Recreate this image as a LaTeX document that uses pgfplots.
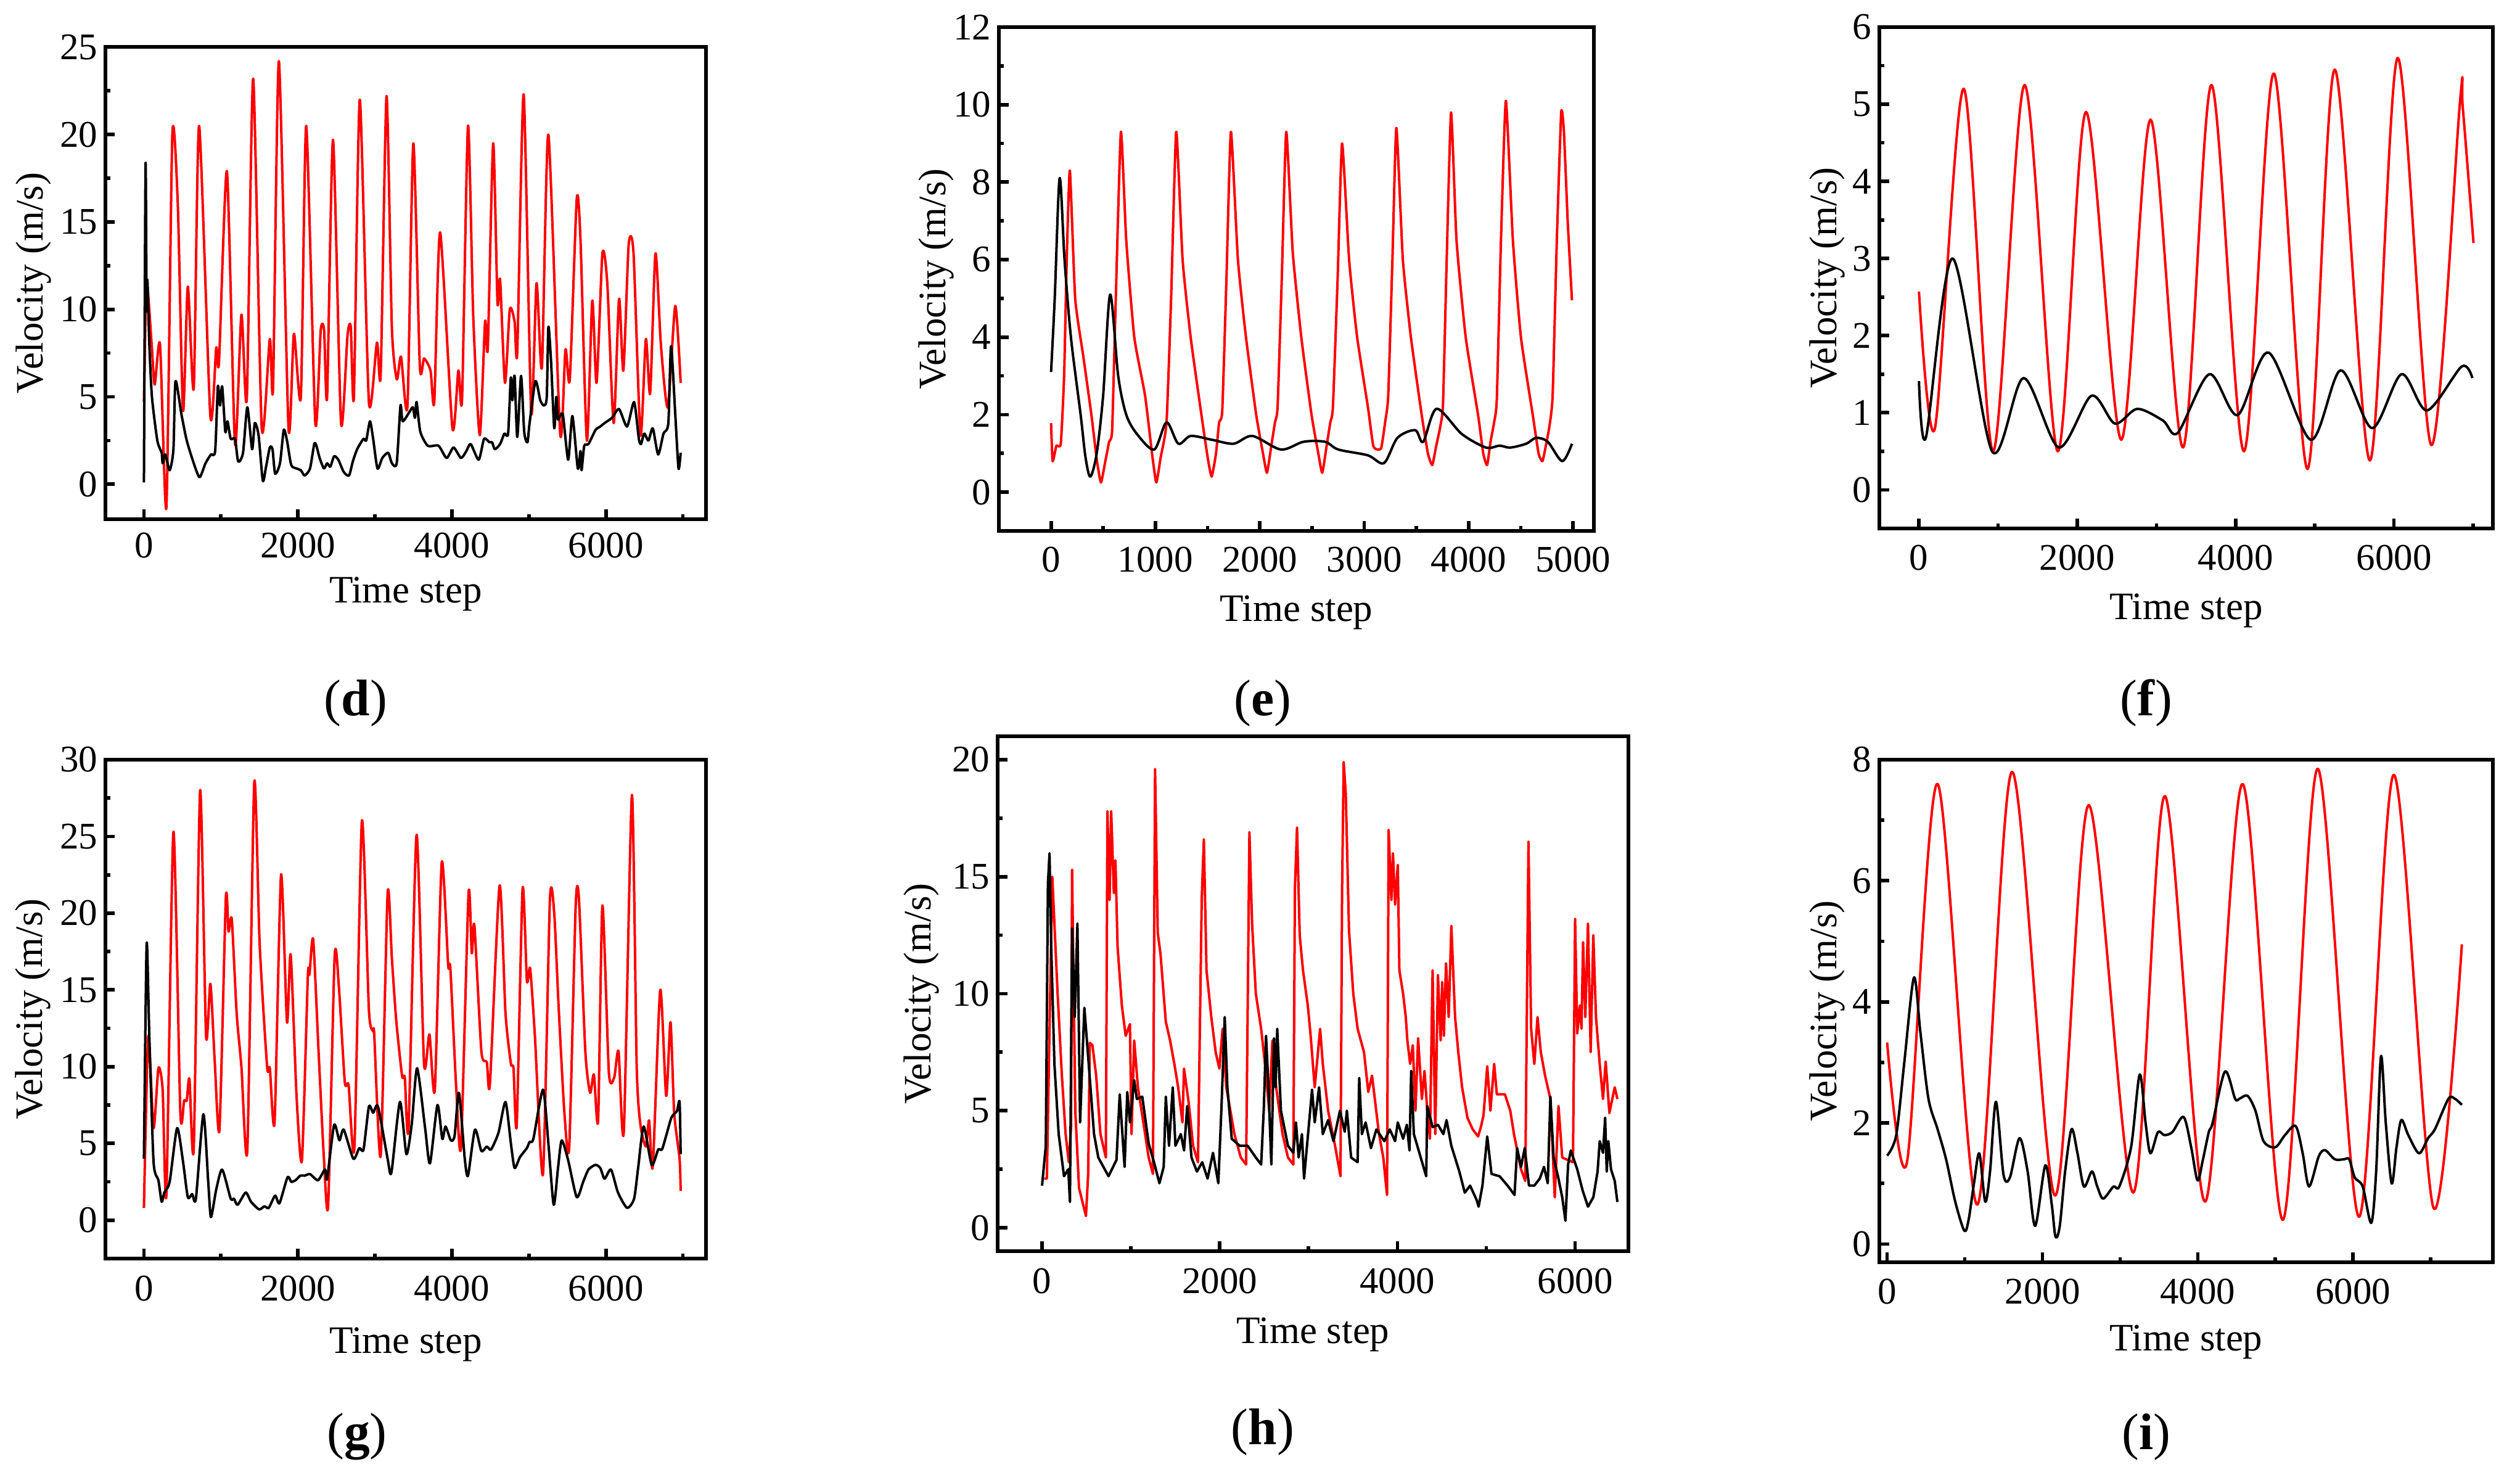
\documentclass[border=0pt]{standalone}
\usepackage{fontspec}
\setmainfont{Liberation Serif}
\usepackage{pgfplots}
\pgfplotsset{compat=1.18}
\pgfplotsset{
  panel/.style={
    scale only axis, anchor=south west,
    axis line style={line width=1.2pt},
    tick style={line width=1.15pt, black},
    major tick length=3.1pt, minor tick length=1.6pt,
    tick align=inside, xtick pos=bottom, ytick pos=left,
    tick label style={font=\rmfamily\fontsize{12.2}{14}\selectfont},
    /pgf/number format/assume math mode=true,
    /pgf/number format/1000 sep={},
    scaled x ticks=false, scaled y ticks=false,
    xticklabel={\rmfamily\pgfmathprintnumber[assume math mode=true,1000 sep={}]{\tick}},
    yticklabel={\rmfamily\pgfmathprintnumber[assume math mode=true,1000 sep={}]{\tick}},
    yticklabel style={xshift=1pt},
  },
  rl/.style={red, line width=0.8pt, line join=round},
  bl/.style={black, line width=0.8pt, line join=round},
}
\newcommand{\lbl}{\fontsize{12.6}{15}\selectfont}
\newcommand{\plbl}{\fontsize{16.7}{20}\selectfont}
\begin{document}
\begin{tikzpicture}
\path[use as bounding box] (0,0) rectangle (817.4pt,478.4pt);
% ---------------- (d)
\begin{axis}[panel, name=d, at={(34.2pt,310.0pt)}, width=194.8pt, height=153.1pt,
  xticklabel style={yshift=-0.8pt},
  xmin=-500, xmax=7300, ymin=-2, ymax=25,
  xtick={0,2000,4000,6000}, minor xtick={1000,3000,5000,7000},
  ytick={0,5,10,15,20,25}, minor ytick={2.5,7.5,12.5,17.5,22.5}]
\addplot[rl, smooth, tension=0.4] coordinates {(0,4.7) (35,11.5) (100,8) (140,5.7) (209,8) (292,-1.3) (369,20) (440,16) (508,4.2) (570,11.3) (647,5.5) (717,20.5) (863,3.9) (939,7.8) (975,7) (1078,17.9) (1183,2.3) (1266,9.7) (1336,4.9) (1419,23.2) (1530,3.2) (1635,8.3) (1677,5.5) (1753,24.2) (1878,3.2) (1948,8.6) (2038,5) (2108,20.5) (2226,3.5) (2296,8.8) (2340,8.8) (2379,5) (2456,19.7) (2560,3.5) (2644,8.5) (2686,9) (2727,5) (2804,22) (2922,4.7) (3026,8.1) (3075,6.3) (3151,22.2) (3220,9) (3284,6) (3339,7.3) (3423,4.5) (3499,19.5) (3583,6.8) (3639,7.2) (3722,6.5) (3771,4.7) (3847,14.4) (4007,3.2) (4084,6.5) (4132,4.9) (4209,20.5) (4278,9.5) (4362,2.8) (4431,9.3) (4466,7.8) (4536,19.5) (4592,10.4) (4626,11.7) (4689,5.8) (4752,10) (4814,9.3) (4849,7.6) (4932,22.3) (5030,4.1) (5099,11.5) (5169,6.7) (5253,20) (5406,2.9) (5475,7.7) (5531,6) (5621,16.3) (5670,14) (5753,2.5) (5823,10.5) (5879,5.8) (5955,13.2) (6018,11.5) (6101,3.5) (6171,10.6) (6227,6.5) (6296,13.7) (6359,13.2) (6449,2.8) (6519,8.3) (6575,5.2) (6644,13.2) (6714,8) (6804,4.4) (6901,10.2) (6971,5.8)};
\addplot[bl, smooth, tension=0.4] coordinates {(0,0.1) (21,18.3) (35,10) (45,11.7) (70,8) (104,5) (174,2.5) (230,1.8) (243,1.2) (278,1.7) (334,0.8) (383,2) (410,5.9) (487,4) (556,2.5) (647,1.2) (723,0.4) (800,1.2) (870,1.7) (925,1.9) (960,5.6) (988,4.5) (1016,5.6) (1057,3) (1085,3.6) (1127,2.6) (1183,2.6) (1224,1.3) (1287,1.8) (1343,4.4) (1405,2) (1440,3.5) (1489,2.8) (1544,0.2) (1586,1) (1635,2.1) (1670,2) (1704,0.6) (1767,1.2) (1816,3.1) (1858,2.5) (1913,1.1) (1983,0.9) (2038,0.8) (2087,0.5) (2157,0.9) (2212,2.3) (2240,2.2) (2282,1.5) (2338,0.9) (2379,1.2) (2421,1) (2470,1.6) (2525,1.4) (2595,0.7) (2664,0.5) (2713,1.3) (2769,2) (2852,2.6) (2887,2.5) (2936,3.6) (2977,2.6) (3033,0.9) (3096,1.5) (3172,1.8) (3221,1.2) (3283,1.2) (3332,4.5) (3360,3.6) (3444,4.1) (3492,4.4) (3520,3.8) (3541,4.7) (3590,3) (3687,2.2) (3826,2.2) (3931,1.5) (4021,2.1) (4118,1.5) (4188,1.9) (4244,2.3) (4348,1.4) (4418,2.6) (4487,2.4) (4522,2.4) (4557,2) (4626,2.3) (4682,2.9) (4730,2.9) (4765,6.1) (4786,4.8) (4814,6.2) (4849,2.7) (4898,6.2) (4939,3) (4981,2.4) (5009,3.5) (5085,5.9) (5148,4.8) (5197,4.5) (5232,5) (5253,9) (5288,7) (5329,3.2) (5357,5) (5378,3.7) (5440,4) (5510,1.4) (5565,3.9) (5635,0.9) (5670,1.9) (5684,0.8) (5719,2.2) (5774,2.3) (5865,3.1) (5927,3.3) (5983,3.5) (6080,3.8) (6171,4.3) (6275,3.3) (6366,4.7) (6428,2.6) (6456,2.3) (6498,2.9) (6553,2.5) (6609,3.2) (6679,1.7) (6748,2.9) (6811,3.5) (6846,7.9) (6901,4) (6943,0.9) (6971,1.8)};
\end{axis}
\node[anchor=base, font=\lbl] at ([yshift=-27.2pt]d.south) {Time step};
\node[rotate=90, anchor=base, font=\lbl] at ([xshift=-20.4pt]d.west) {Velocity (m/s)};
\node[font=\plbl] at (115.4pt,250.4pt) {(\textbf{d})};
% ---------------- (e)
\begin{axis}[panel, name=e, at={(324.0pt,306.2pt)}, width=193.0pt, height=163.4pt,
  xticklabel style={yshift=-1.6pt},
  xmin=-500, xmax=5200, ymin=-1, ymax=12,
  xtick={0,1000,2000,3000,4000,5000}, minor xtick={500,1500,2500,3500,4500},
  ytick={0,2,4,6,8,10,12}, minor ytick={1,3,5,7,9,11}]
\addplot[rl, smooth, tension=0.3] coordinates {(0,1.78) (15,0.8) (51,1.2) (93,1.25) (125,3) (150,6) (180,8.3) (231,5) (309,3.5) (386,2) (440,0.8) (478,0.25) (520,0.8) (556,1.3) (585,1.6) (620,5) (669,9.3) (720,6.5) (797,4) (900,2.5) (967,1) (1008,0.25) (1050,0.9) (1106,1.8) (1150,5) (1199,9.3) (1260,6) (1337,4) (1440,2) (1500,0.9) (1538,0.4) (1580,1) (1610,1.8) (1640,2.1) (1680,5.5) (1723,9.3) (1790,6) (1867,4) (1965,2) (2030,1) (2068,0.5) (2110,1.2) (2145,1.8) (2170,2.2) (2210,5.5) (2253,9.3) (2315,6.2) (2397,4) (2495,2) (2560,1) (2598,0.5) (2640,1.2) (2675,1.8) (2700,2.2) (2745,5.5) (2788,9.0) (2855,6) (2932,4) (3035,2.2) (3086,1.2) (3130,1.1) (3164,1.15) (3200,1.8) (3230,2.5) (3270,6) (3308,9.4) (3370,6) (3447,4) (3550,2) (3610,1) (3652,0.7) (3690,1.2) (3729,1.7) (3755,2.3) (3790,6) (3832,9.8) (3884,6.5) (3972,4) (4090,2) (4140,1) (4177,0.7) (4210,1.3) (4244,1.8) (4270,2.4) (4310,6.5) (4357,10.1) (4424,6.5) (4501,4) (4614,2) (4670,1) (4707,0.8) (4740,1.2) (4774,1.7) (4805,2.5) (4845,6.5) (4887,9.8) (4913,9.3) (4949,7) (4990,4.95)};
\addplot[bl, smooth] coordinates {(0,3.1) (35,5) (82,8.1) (129,6) (190,4) (283,2) (330,0.9) (376,0.4) (437,1) (499,2.5) (566,5.1) (643,3) (720,2) (823,1.5) (988,1.1) (1106,1.8) (1219,1.25) (1337,1.45) (1543,1.35) (1749,1.25) (1929,1.45) (2202,1.1) (2418,1.3) (2623,1.3) (2752,1.1) (3035,0.95) (3189,0.75) (3318,1.4) (3488,1.6) (3565,1.3) (3693,2.15) (3935,1.5) (4167,1.15) (4295,1.2) (4398,1.15) (4552,1.25) (4645,1.4) (4758,1.3) (4897,0.8) (4990,1.25)};
\end{axis}
\node[anchor=base, font=\lbl] at ([yshift=-29.4pt]e.south) {Time step};
\node[rotate=90, anchor=base, font=\lbl] at ([xshift=-17.4pt]e.west) {Velocity (m/s)};
\node[font=\plbl] at (409.6pt,250.4pt) {(\textbf{e})};
% ---------------- (f)
\begin{axis}[panel, name=f, at={(609.6pt,307.0pt)}, width=199.0pt, height=162.6pt,
  xticklabel style={yshift=-1.8pt},
  xmin=-500, xmax=7250, ymin=-0.5, ymax=6,
  xtick={0,2000,4000,6000}, minor xtick={1000,3000,5000,7000},
  ytick={0,1,2,3,4,5,6}, minor ytick={0.5,1.5,2.5,3.5,4.5,5.5}]
\addplot[rl, smooth] coordinates {(0,2.57) (202,0.8) (566,5.2) (937,0.5) (1335,5.25) (1753,0.5) (2110,4.9) (2555,0.65) (2926,4.8) (3337,0.55) (3695,5.25) (4106,0.5) (4483,5.4) (4908,0.27) (5252,5.45) (5697,0.38) (6048,5.6) (6472,0.58) (6836,5.05) (6870,4.95) (7005,3.2)};
\addplot[bl, smooth] coordinates {(0,1.41) (88,0.68) (425,3.0) (924,0.5) (1321,1.45) (1766,0.55) (2178,1.22) (2474,0.86) (2757,1.05) (3081,0.9) (3270,0.74) (3668,1.5) (4025,0.97) (4416,1.78) (4949,0.65) (5326,1.55) (5724,0.8) (6095,1.5) (6418,1.03) (6856,1.6) (6991,1.45)};
\end{axis}
\node[anchor=base, font=\lbl] at ([yshift=-29.6pt]f.south) {Time step};
\node[rotate=90, anchor=base, font=\lbl] at ([xshift=-14pt]f.west) {Velocity (m/s)};
\node[font=\plbl] at (696.2pt,250.4pt) {(\textbf{f})};
% ---------------- (g)
\begin{axis}[panel, name=g, at={(34.2pt,70.2pt)}, width=194.8pt, height=161.8pt,
  xticklabel style={yshift=-2.1pt},
  xmin=-500, xmax=7300, ymin=-2.5, ymax=30,
  xtick={0,2000,4000,6000}, minor xtick={1000,3000,5000,7000},
  ytick={0,5,10,15,20,25,30}, minor ytick={2.5,7.5,12.5,17.5,22.5,27.5}]
\addplot[rl, smooth, tension=0.4] coordinates {(0,0.8) (56,12) (125,6) (188,9.9) (243,8.5) (292,1.7) (383,25.3) (473,7) (522,7.8) (556,7.8) (591,9.2) (647,4.7) (730,28) (807,12) (863,15.4) (918,10.5) (981,5.9) (1064,21) (1099,18.8) (1141,19.6) (1204,13.5) (1266,10) (1343,4.6) (1433,28.5) (1503,18) (1600,10) (1635,9.9) (1697,6.4) (1781,22.5) (1858,12.9) (1906,17.3) (1983,8) (2052,3.9) (2129,15.9) (2150,16) (2198,18.3) (2268,11) (2338,4) (2393,1) (2477,17.2) (2532,15.2) (2609,9) (2658,8.8) (2734,4.8) (2831,26) (2922,13.7) (2977,12.3) (2991,12.1) (3075,4.2) (3165,21.3) (3221,17) (3277,13) (3353,9.4) (3388,9.3) (3437,6) (3541,25.1) (3638,10.2) (3708,12.1) (3778,8.5) (3868,23.3) (3952,16.6) (3980,16.4) (4056,8.6) (4118,4.8) (4216,21.3) (4258,17.4) (4292,19.2) (4383,11) (4453,10.3) (4494,8.9) (4619,21.8) (4696,13.5) (4766,10.2) (4800,9.9) (4842,6.2) (4918,21.6) (4974,15.6) (5016,16.4) (5078,12) (5183,3) (5273,20.9) (5329,20) (5385,14) (5461,7) (5524,4.8) (5607,20.4) (5649,21) (5733,11) (5795,8.3) (5844,9.5) (5899,6.5) (5955,20.5) (6039,9.6) (6108,9.3) (6164,11) (6233,5.8) (6338,27.7) (6400,10) (6449,6.2) (6519,4.8) (6561,6.5) (6609,3.5) (6706,15) (6783,8.1) (6839,12.9) (6887,7) (6957,4) (6971,1.9)};
\addplot[bl, smooth, tension=0.4] coordinates {(0,4) (35,18) (70,12) (125,3.8) (188,2.6) (230,1.2) (265,1.8) (334,2.5) (431,6) (508,3.8) (570,1.5) (626,1.7) (675,1.4) (772,6.9) (835,2.5) (870,0.2) (939,2) (1016,3.3) (1127,1.4) (1169,1.4) (1217,1) (1322,1.8) (1391,1.2) (1496,0.7) (1565,0.9) (1621,0.8) (1704,1.6) (1760,1.1) (1865,2.8) (1913,2.5) (1969,2.6) (2031,2.9) (2087,2.9) (2157,3) (2261,2.6) (2351,3.3) (2379,2.7) (2470,6.2) (2539,5.2) (2595,5.9) (2720,4) (2797,4.7) (2852,4.6) (2922,7.4) (2977,7) (3040,7.4) (3165,4) (3214,3.1) (3325,7.7) (3409,4.3) (3479,6.3) (3548,9.9) (3652,6) (3715,3.7) (3812,7.5) (3875,5.3) (3917,6.1) (3986,5.2) (4035,5.5) (4091,8.3) (4167,4) (4209,2.9) (4299,5.9) (4383,4.5) (4453,4.8) (4508,4.6) (4605,5.7) (4696,7.7) (4766,5) (4814,3.4) (4883,4.1) (4974,4.7) (5009,5.1) (5058,5.3) (5183,8.5) (5253,5) (5322,1) (5378,3.4) (5426,5.2) (5510,3.9) (5621,1.5) (5705,2.5) (5774,3.3) (5865,3.6) (5927,3.4) (5983,2.7) (6066,3.3) (6157,1.8) (6275,0.8) (6366,1.4) (6421,3.5) (6491,6.1) (6595,3.6) (6679,4.6) (6728,4.6) (6783,5.5) (6852,6.7) (6922,7.1) (6957,7.7) (6971,4.3)};
\end{axis}
\node[anchor=base, font=\lbl] at ([yshift=-30.8pt]g.south) {Time step};
\node[rotate=90, anchor=base, font=\lbl] at ([xshift=-20.6pt]g.west) {Velocity (m/s)};
\node[font=\plbl] at (115.8pt,12.4pt) {(\textbf{g})};
% ---------------- (h)
\begin{axis}[panel, name=h, at={(323.6pt,72.6pt)}, width=204.6pt, height=167.0pt,
  xticklabel style={yshift=-2.1pt},
  xmin=-500, xmax=6600, ymin=-1, ymax=21,
  xtick={0,2000,4000,6000}, minor xtick={1000,3000,5000},
  ytick={0,5,10,15,20}, minor ytick={2.5,7.5,12.5,17.5}]
\addplot[rl] coordinates {(24,2.1) (54,2.1) (115,15) (139,13) (175,10) (223,6.5) (265,4) (301,2.8) (326,4.3) (338,15.3) (374,5) (416,1.7) (494,0.5) (519,2.3) (537,7.9) (567,7.8) (609,6.5) (657,4) (718,3) (736,17.8) (760,14) (778,17.8) (808,14.3) (826,15.7) (850,12) (898,9.5) (941,8.2) (989,8.7) (1007,4) (1037,8) (1079,6) (1140,4.5) (1200,3) (1248,2.3) (1272,19.6) (1302,12.6) (1333,11.7) (1393,8.8) (1441,8) (1489,7) (1532,6) (1580,4.5) (1598,6.8) (1652,5.3) (1700,3.5) (1755,2.8) (1797,14) (1821,16.6) (1851,11) (1905,9) (1954,7.5) (1996,6.8) (2032,8.5) (2074,6) (2165,4) (2237,3) (2297,2.7) (2334,16.9) (2364,13) (2406,10) (2466,8.5) (2509,7) (2557,5) (2593,8) (2635,6) (2707,4) (2768,3) (2828,2.7) (2846,14.5) (2870,17.1) (2900,12.5) (2937,11) (2991,9.5) (3021,8.3) (3069,6) (3130,8.5) (3160,7) (3220,5) (3298,3.5) (3359,2.2) (3377,14.4) (3395,19.9) (3419,18.5) (3455,12.7) (3503,10) (3552,8.5) (3624,7.5) (3672,5.8) (3714,6.5) (3793,4) (3841,3) (3883,1.4) (3901,17) (3932,14) (3950,16) (3974,13.8) (4004,15.5) (4022,11) (4064,10) (4094,9) (4112,8) (4143,7) (4173,7.8) (4203,5) (4233,8.1) (4275,5.5) (4305,6.7) (4336,5) (4366,3.8) (4396,11) (4426,4) (4456,10.8) (4487,8) (4504,10.5) (4523,8.2) (4547,11.3) (4577,9) (4607,12.9) (4649,9) (4685,7.5) (4728,6) (4788,4.7) (4848,4.2) (4908,3.9) (4939,4.3) (4969,4.8) (5011,6.9) (5047,5) (5089,7) (5119,5.7) (5210,5.7) (5270,5) (5312,4) (5391,2.5) (5439,2) (5475,16.5) (5505,8.5) (5541,7) (5577,9) (5614,7.5) (5662,6.5) (5722,5.5) (5771,1.3) (5813,5.2) (5855,3) (5976,2.8) (6000,13.2) (6024,8.3) (6054,9.5) (6072,8.5) (6090,12.2) (6115,9) (6145,13) (6175,7.5) (6205,12.5) (6235,9) (6277,7) (6314,5.5) (6344,7.1) (6386,4.9) (6446,6) (6476,5.5)};
\addplot[bl] coordinates {(0,1.8) (42,3.5) (66,14.7) (84,16) (103,12) (139,7) (187,4) (247,2.2) (295,2.5) (314,1.1) (338,12.8) (368,9) (398,13) (428,4.5) (476,9.4) (525,7) (585,4) (633,3) (748,2.2) (838,2.9) (874,5.7) (929,2.6) (959,5.8) (989,4.5) (1037,6.3) (1067,5.5) (1128,5.6) (1200,3.6) (1260,2.8) (1321,1.9) (1369,2.6) (1393,5.6) (1429,3.5) (1471,6) (1501,3.5) (1562,4) (1598,3.3) (1634,5.2) (1682,3) (1743,2.4) (1803,2.8) (1863,2.1) (1924,3.2) (1984,1.9) (2020,5.2) (2056,9) (2086,6) (2135,3.8) (2225,3.5) (2315,3.5) (2406,3) (2466,2.7) (2496,5.1) (2521,8.2) (2545,6.3) (2581,2.7) (2611,8.1) (2629,6) (2647,8.5) (2689,5) (2768,3.5) (2828,3.2) (2858,4.5) (2888,3) (2925,4) (2949,2.1) (3039,5.9) (3069,4.5) (3118,6) (3160,4) (3220,4.6) (3280,3.7) (3353,5) (3407,4.1) (3431,5) (3479,3) (3552,2.8) (3570,6.4) (3600,4) (3642,4.5) (3702,3.4) (3763,4.2) (3853,3.7) (3914,4.2) (3974,3.7) (4004,4.5) (4064,3.8) (4106,4.4) (4136,3.3) (4155,6.7) (4185,4) (4324,2.2) (4336,5.2) (4396,4.3) (4456,4.4) (4517,4) (4553,4.6) (4607,3.5) (4697,2.4) (4758,1.5) (4818,1.8) (4890,1.2) (4914,0.9) (4957,1.8) (5011,3.9) (5059,2.3) (5150,2.2) (5240,1.8) (5318,1.4) (5348,3.4) (5391,2.6) (5433,3.4) (5481,1.8) (5541,1.8) (5602,2.1) (5650,2.6) (5692,1.9) (5722,5.6) (5758,3) (5813,2.1) (5855,1.3) (5891,0.3) (5921,2.7) (5952,3.3) (6024,2.5) (6084,1.6) (6145,0.9) (6205,1.3) (6253,2.4) (6277,3.7) (6314,3.2) (6338,4.7) (6356,2.4) (6374,3.7) (6404,2.5) (6446,2) (6476,1.1)};
\end{axis}
\node[anchor=base, font=\lbl] at ([yshift=-30pt]h.south) {Time step};
\node[rotate=90, anchor=base, font=\lbl] at ([xshift=-21.8pt]h.west) {Velocity (m/s)};
\node[font=\plbl] at (409.6pt,14pt) {(\textbf{h})};
% ---------------- (i)
\begin{axis}[panel, name=i, at={(609.6pt,69.0pt)}, width=199.0pt, height=163.0pt,
  xticklabel style={yshift=-1.8pt},
  xmin=-100, xmax=7800, ymin=-0.3, ymax=8,
  xtick={0,2000,4000,6000}, minor xtick={1000,3000,5000,7000},
  ytick={0,2,4,6,8}, minor ytick={1,3,5,7}]
\addplot[rl, smooth] coordinates {(0,3.33) (255,1.35) (649,7.6) (1160,0.65) (1609,7.8) (2161,0.8) (2596,7.25) (3169,0.85) (3576,7.4) (4094,0.7) (4577,7.6) (5095,0.4) (5544,7.85) (6076,0.45) (6524,7.75) (7035,0.6) (7401,4.95)};
\addplot[bl, smooth] coordinates {(0,1.46) (117,1.8) (221,3) (345,4.4) (428,3.5) (532,2.4) (649,1.9) (759,1.4) (877,0.7) (994,0.22) (1049,0.4) (1118,1) (1187,1.5) (1263,0.7) (1325,1.2) (1401,2.35) (1498,1.15) (1581,1.1) (1705,1.75) (1809,1.2) (1906,0.3) (2037,1.3) (2120,0.65) (2168,0.12) (2223,0.3) (2292,1.2) (2375,1.9) (2451,1.5) (2534,0.95) (2637,1.2) (2706,0.95) (2782,0.75) (2914,0.95) (2989,0.95) (3141,1.6) (3252,2.8) (3328,2) (3390,1.5) (3487,1.85) (3569,1.8) (3673,1.85) (3818,2.1) (3915,1.6) (3997,1.05) (4067,1.4) (4142,1.85) (4191,2) (4350,2.85) (4481,2.4) (4536,2.4) (4640,2.45) (4743,2.2) (4847,1.7) (4999,1.6) (5123,1.8) (5261,1.95) (5351,1.5) (5433,0.95) (5558,1.45) (5640,1.55) (5765,1.4) (5882,1.4) (5951,1.4) (6021,1.1) (6124,0.95) (6234,0.35) (6297,1.2) (6359,3.1) (6421,2) (6497,1.0) (6559,1.6) (6621,2.05) (6711,1.8) (6849,1.5) (6966,1.75) (7055,1.9) (7228,2.4) (7311,2.4) (7401,2.3)};
\end{axis}
\node[anchor=base, font=\lbl] at ([yshift=-28.8pt]i.south) {Time step};
\node[rotate=90, anchor=base, font=\lbl] at ([xshift=-14pt]i.west) {Velocity (m/s)};
\node[font=\plbl] at (696.2pt,12.4pt) {(\textbf{i})};
\end{tikzpicture}
\end{document}
